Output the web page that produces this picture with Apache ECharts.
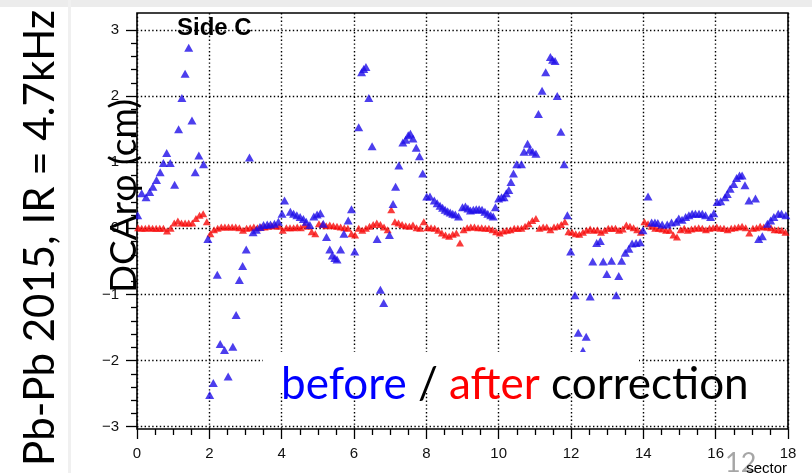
<!DOCTYPE html>
<html><head><meta charset="utf-8">
<script src="https://cdn.jsdelivr.net/npm/echarts@6/dist/echarts.min.js"></script>
<style>html,body{margin:0;padding:0;background:#fff;}#c{width:812px;height:473px;}</style>
</head><body><div id="c"></div>
<script>
// "before" correction (blue) — read positions (sector, DCA r-phi in cm)
const blueX = [0.02,0.13,0.25,0.35,0.44,0.54,0.64,0.73,0.82,0.92,
1.04,1.15,1.24,1.33,1.43,1.52,1.61,1.71,1.84,1.96,
2.01,2.11,2.22,2.30,2.42,2.52,2.65,2.74,2.83,2.92,
3.02,3.11,3.21,3.30,3.40,3.50,3.60,3.69,3.80,3.91,
4.01,4.08,4.24,4.33,4.42,4.51,4.60,4.68,4.78,4.89,4.98,
5.07,5.15,5.24,5.33,5.40,5.47,5.53,5.63,5.72,5.84,5.93,
6.02,6.13,6.21,6.27,6.33,6.41,6.50,6.64,6.73,6.82,6.98,
7.08,7.15,7.24,7.35,7.43,7.50,7.56,7.63,7.72,7.81,7.90,
8.01,8.10,8.22,8.30,8.38,8.45,8.52,8.59,8.66,8.73,8.80,8.89,
9.00,9.08,9.15,9.22,9.30,9.38,9.46,9.54,9.62,9.70,9.78,9.85,9.91,
10.00,10.08,10.15,10.21,10.28,10.34,10.41,10.50,10.63,10.70,10.80,10.86,10.94,
11.03,11.10,11.20,11.30,11.43,11.49,11.56,11.62,11.72,11.81,11.90,11.99,
12.11,12.20,12.33,12.42,12.53,12.60,12.71,12.81,12.89,12.99,
13.12,13.25,13.32,13.40,13.50,13.60,13.69,13.80,13.91,13.99,
14.13,14.23,14.32,14.40,14.52,14.66,14.78,14.91,14.98,
15.07,15.17,15.26,15.35,15.44,15.54,15.63,15.72,15.86,15.95,
16.04,16.14,16.26,16.32,16.40,16.50,16.58,16.66,16.73,16.81,16.92,
17.10,17.19,17.29,17.43,17.52,17.61,17.73,17.82,17.94];
const blueY = [0.20,0.53,0.47,0.55,0.63,0.73,0.85,0.99,1.14,0.99,
0.66,1.50,1.97,2.34,2.73,1.63,0.85,1.10,0.97,-0.16,
-2.52,-2.34,-0.70,-1.75,-1.84,-2.24,-1.79,-1.31,-0.78,-0.57,
-0.32,1.07,-0.06,-0.02,0.02,0.05,0.06,0.06,0.07,0.10,
0.22,0.42,0.25,0.22,0.20,0.17,0.14,0.10,0.05,0.18,0.21,
0.23,0.07,-0.13,-0.32,-0.41,-0.45,-0.47,-0.32,-0.08,0.12,0.29,
-0.35,1.53,2.36,2.41,2.44,1.97,1.24,-0.16,-0.93,-1.13,-0.10,
0.37,0.63,0.95,1.30,1.34,1.41,1.43,1.36,1.22,1.09,0.83,
0.48,0.48,0.42,0.38,0.34,0.31,0.28,0.26,0.24,0.22,0.21,0.18,
0.32,0.33,0.30,0.27,0.28,0.29,0.29,0.28,0.25,0.22,0.20,0.18,0.32,
0.45,0.47,0.47,0.53,0.58,0.70,0.83,0.97,0.97,1.16,1.28,1.19,1.16,
1.13,1.73,2.08,2.36,2.59,2.55,2.53,2.00,1.46,0.97,0.20,-0.35,
-1.01,-1.58,-1.85,-1.64,-1.03,-0.50,-0.22,-0.19,-0.50,-0.69,
-0.49,-1.01,-0.72,-0.49,-0.37,-0.31,-0.23,-0.22,-0.21,-0.03,
0.48,0.09,0.09,0.08,0.06,0.06,0.09,0.10,0.15,
0.13,0.17,0.20,0.22,0.22,0.22,0.22,0.20,0.17,0.23,
0.40,0.41,0.47,0.52,0.60,0.67,0.76,0.80,0.80,0.65,0.42,
0.45,-0.16,-0.12,0.07,0.12,0.17,0.22,0.22,0.20];
// "after" correction (red) — one value per 0.1-sector bin, sectors 0..17
const redY = [
0.01,0.00,0.00,0.01,0.00,0.00,0.00,0.00,-0.04,0.00,
0.08,0.11,0.08,0.08,0.08,0.08,0.15,0.20,0.22,0.10,
-0.08,-0.02,0.00,0.02,0.02,0.02,0.02,0.02,0.01,-0.03,
0.00,0.01,0.02,0.01,0.02,0.02,0.03,0.04,0.04,0.03,
-0.03,0.01,0.01,0.01,0.02,0.01,0.05,0.03,-0.05,-0.08,
0.07,0.06,0.04,0.05,0.04,0.03,0.02,0.01,0.00,-0.08,
-0.10,0.00,-0.03,0.00,0.03,0.06,0.08,0.06,0.02,-0.02,
0.28,0.10,0.08,0.06,0.04,0.03,0.05,0.01,0.00,0.10,
0.01,0.01,0.00,-0.03,-0.07,-0.10,-0.12,-0.09,-0.07,-0.22,
-0.02,0.01,0.02,0.02,0.01,0.01,0.00,0.00,-0.02,-0.05,
-0.07,-0.04,-0.03,-0.02,0.00,0.00,0.00,0.03,0.07,0.12,
0.15,0.00,0.02,0.02,-0.02,0.02,0.03,0.06,0.10,-0.05,
-0.06,-0.08,-0.09,-0.06,-0.03,-0.01,-0.03,-0.02,-0.06,-0.03,
0.00,0.00,0.00,-0.03,-0.01,0.05,0.03,0.01,-0.02,-0.06,
0.10,0.07,0.03,0.00,0.00,-0.01,-0.03,-0.03,-0.10,-0.13,
-0.02,0.00,-0.03,-0.01,0.00,0.01,0.00,-0.02,0.00,0.01,
0.02,0.00,0.00,-0.02,0.00,0.01,0.02,0.03,0.01,-0.07,
0.00,0.01,0.03,0.02,0.02,0.01,-0.02,-0.02,-0.03,-0.06];
const binWidth = 0.1, binOffset = 0.03;
const xTicks = {min:0, max:18, step:2};
const yTicks = {min:-3, max:3, step:1};

const blueData = blueX.map((x,i)=>[x, blueY[i]]);
const redData = redY.map((y,i)=>[i*binWidth + binOffset, y]);

const chart = echarts.init(document.getElementById('c'), null, {renderer:'canvas'});
const dots = {color:'#000', type:[1.4,2.4], width:1.4};
const lab = {fontFamily:'Liberation Sans', fontSize:15, color:'#111'};
chart.setOption({
  animation:false,
  backgroundColor:'#ffffff',
  grid:[
    {left:137, top:30, width:651, height:396.7, show:false},
    {left:137, top:13, width:651, height:416, show:true, borderColor:'#000', borderWidth:1.6, backgroundColor:'transparent'}
  ],
  xAxis:[
    {gridIndex:0, type:'value', min:xTicks.min, max:xTicks.max, show:false},
    {gridIndex:1, type:'value', min:xTicks.min, max:xTicks.max, interval:xTicks.step,
     axisLine:{show:false},
     axisTick:{show:true, length:10, lineStyle:{color:'#000', width:1.3}},
     minorTick:{show:true, splitNumber:4, length:6, lineStyle:{color:'#000', width:1.3}},
     axisLabel:Object.assign({margin:17}, lab),
     splitLine:{show:true, lineStyle:dots}}
  ],
  yAxis:[
    {gridIndex:0, type:'value', min:yTicks.min, max:yTicks.max, interval:yTicks.step,
     axisLine:{show:false},
     axisTick:{show:true, length:11, lineStyle:{color:'#000', width:1.3}},
     minorTick:{show:true, splitNumber:5, length:6, lineStyle:{color:'#000', width:1.3}},
     axisLabel:Object.assign({margin:18, formatter:v=>String(v).replace('-','\u2212')}, lab),
     splitLine:{show:true, lineStyle:dots}},
    {gridIndex:1, type:'value', min:0, max:1, show:false}
  ],
  series:[
    {type:'scatter', name:'after', xAxisIndex:0, yAxisIndex:0, data:redData, symbol:'triangle', symbolSize:[8,7],
     itemStyle:{color:'#f80a0a'}, z:3},
    {type:'scatter', name:'before', xAxisIndex:0, yAxisIndex:0, data:blueData, symbol:'triangle', symbolSize:[9,8],
     itemStyle:{color:'#1f0ee8'}, z:4}
  ],
  graphic:[
    {type:'rect', shape:{x:0, y:0, width:812, height:7}, style:{fill:'#ececec'}, z:1},
    {type:'rect', shape:{x:68, y:0, width:3, height:473}, style:{fill:'#f0f0f0'}, z:1},
    {type:'rect', shape:{x:263, y:352, width:376, height:41}, style:{fill:'#fff'}, z:5},
    {type:'text', x:40, y:238, rotation:Math.PI/2, z:10,
     style:{text:'Pb-Pb 2015, IR = 4.7kHz', fontFamily:'Lato', fontSize:42, fill:'#000', align:'center', verticalAlign:'middle'}},
    {type:'text', x:124, y:196, rotation:Math.PI/2, z:10,
     style:{text:'DCAr\u03c6 (cm)', fontFamily:'Lato', fontSize:37, fill:'#000', align:'center', verticalAlign:'middle'}},
    {type:'text', x:177, y:16, z:10,
     style:{text:'Side C', fontFamily:'Liberation Sans', fontWeight:'bold', fontSize:24, fill:'#000', align:'left', verticalAlign:'top'}},
    {type:'text', x:281, y:385, z:10,
     style:{text:'{b|before} / {r|after} correction', fontFamily:'Lato', fontSize:44, fill:'#000', align:'left', verticalAlign:'middle',
       rich:{b:{fill:'#0000ff', fontFamily:'Lato', fontSize:44}, r:{fill:'#ff0000', fontFamily:'Lato', fontSize:44}}}},
    {type:'text', x:725, y:450, z:10,
     style:{text:'12', fontFamily:'Lato', fontSize:27, fill:'#a6a6a6', align:'left', verticalAlign:'top'}},
    {type:'text', x:787, y:461, z:11,
     style:{text:'sector', fontFamily:'Liberation Sans', fontSize:15, fill:'#000', align:'right', verticalAlign:'top'}}
  ]
});
</script></body></html>
